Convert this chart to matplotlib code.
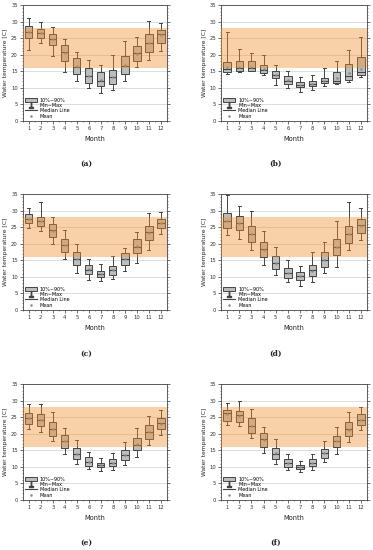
import matplotlib
matplotlib.use("Agg")
import matplotlib.pyplot as plt
from matplotlib.patches import Patch
from matplotlib.lines import Line2D
from matplotlib.ticker import MultipleLocator

months = [1, 2, 3, 4, 5, 6, 7, 8, 9, 10, 11, 12]

# panel (a)
a_min = [21.5, 23.4, 19.5, 14.9, 12.1, 9.9, 8.3, 9.4, 12.2, 16.3, 18.5, 21.1]
a_q10 = [25.1, 25.1, 22.9, 18.0, 14.1, 11.4, 10.5, 11.2, 14.3, 18.1, 20.8, 23.4]
a_med = [26.9, 26.7, 24.7, 20.9, 16.4, 13.6, 12.1, 13.2, 16.5, 20.4, 23.5, 26.4]
a_q90 = [28.8, 27.9, 26.1, 22.8, 19.1, 15.9, 14.7, 15.5, 19.5, 22.5, 26.1, 27.6]
a_max = [31.0, 29.9, 28.4, 24.8, 20.9, 18.5, 17.0, 19.8, 24.0, 25.4, 30.2, 29.6]
a_mean = [27.0, 26.6, 24.6, 20.6, 16.6, 13.7, 12.4, 13.3, 16.9, 20.3, 23.6, 25.9]

# panel (b)
b_min = [14.1, 14.8, 15.0, 13.8, 11.0, 10.1, 8.7, 9.4, 10.5, 11.1, 11.9, 13.3]
b_q10 = [14.7, 15.0, 15.1, 14.6, 12.9, 11.2, 10.2, 10.5, 11.4, 11.6, 12.5, 13.8]
b_med = [15.8, 16.0, 16.0, 15.5, 13.9, 12.2, 11.0, 11.2, 12.2, 12.2, 13.7, 14.8]
b_q90 = [17.8, 18.1, 18.1, 16.9, 15.0, 13.5, 11.9, 12.0, 13.0, 14.8, 17.1, 19.2]
b_max = [26.9, 21.7, 20.6, 20.0, 17.0, 15.0, 13.2, 13.9, 16.1, 18.0, 21.3, 25.4]
b_mean = [16.4, 16.3, 16.4, 15.6, 14.0, 12.3, 11.0, 11.2, 12.2, 13.0, 14.5, 15.8]

# panel (c)
c_min = [24.6, 23.8, 19.8, 15.3, 11.2, 9.0, 8.8, 9.5, 11.7, 14.1, 18.1, 22.9]
c_q10 = [26.2, 25.3, 21.9, 17.4, 13.5, 11.0, 10.0, 10.6, 13.7, 17.2, 21.1, 24.6]
c_med = [27.6, 26.8, 24.0, 19.6, 15.3, 12.2, 11.0, 12.2, 15.5, 19.1, 23.4, 26.4]
c_q90 = [29.0, 28.2, 25.9, 21.5, 17.4, 13.7, 11.9, 13.4, 17.1, 21.3, 25.2, 27.4]
c_max = [30.7, 32.7, 28.1, 24.1, 20.0, 15.3, 13.8, 16.3, 18.8, 23.6, 29.2, 29.6]
c_mean = [27.6, 26.8, 23.9, 19.5, 15.4, 12.3, 11.0, 12.1, 15.4, 19.2, 23.2, 26.1]

# panel (d)
d_min = [22.6, 21.4, 18.1, 13.7, 10.7, 8.4, 7.2, 8.3, 11.1, 12.9, 18.0, 21.0]
d_q10 = [24.6, 24.0, 20.4, 15.9, 12.3, 9.8, 9.2, 10.2, 13.0, 16.6, 20.1, 23.2]
d_med = [27.0, 26.2, 23.0, 18.3, 14.3, 11.3, 10.4, 12.0, 15.2, 18.9, 22.8, 25.5]
d_q90 = [29.3, 28.5, 25.4, 20.4, 16.4, 12.8, 11.4, 13.5, 17.4, 21.3, 25.4, 27.6]
d_max = [34.8, 31.5, 29.8, 23.8, 19.1, 15.2, 13.3, 17.4, 20.6, 26.9, 32.7, 30.8]
d_mean = [27.0, 26.1, 22.8, 18.2, 14.3, 11.3, 10.3, 11.8, 15.1, 19.0, 22.8, 25.4]

# panel (e)
e_min = [21.4, 20.6, 17.9, 13.8, 10.8, 9.3, 8.9, 9.2, 10.7, 13.0, 16.5, 19.7]
e_q10 = [22.8, 22.4, 19.4, 15.6, 12.3, 10.4, 9.9, 10.2, 12.1, 15.1, 18.3, 21.3]
e_med = [24.8, 24.1, 21.5, 17.8, 13.8, 11.5, 10.7, 11.2, 13.5, 16.7, 20.5, 23.2]
e_q90 = [26.3, 26.0, 23.6, 19.7, 15.8, 12.9, 11.3, 12.3, 15.0, 18.7, 22.7, 24.7]
e_max = [28.9, 28.9, 26.5, 21.7, 18.2, 14.4, 12.8, 14.3, 17.6, 21.7, 25.4, 27.2]
e_mean = [24.6, 24.1, 21.5, 17.7, 14.0, 11.6, 10.6, 11.2, 13.6, 16.9, 20.4, 23.0]

# panel (f)
f_min = [22.5, 22.4, 18.6, 14.2, 10.8, 9.1, 8.5, 9.2, 11.4, 14.0, 17.4, 21.1]
f_q10 = [23.9, 23.5, 20.3, 15.9, 12.5, 10.1, 9.5, 10.3, 12.6, 15.9, 19.2, 22.7]
f_med = [26.2, 25.5, 22.4, 18.4, 14.0, 11.2, 10.1, 11.3, 14.2, 17.8, 21.3, 24.2]
f_q90 = [27.2, 27.0, 24.6, 20.1, 15.8, 12.3, 10.7, 12.4, 15.5, 19.4, 23.4, 25.8]
f_max = [29.2, 30.0, 27.6, 22.0, 18.4, 14.0, 11.8, 13.9, 17.7, 22.0, 26.7, 28.0]
f_mean = [25.8, 25.3, 22.4, 18.1, 14.1, 11.2, 10.1, 11.3, 14.1, 17.7, 21.2, 24.1]

band_low = 16
band_high = 28
panel_labels = ["(a)", "(b)", "(c)", "(d)", "(e)", "(f)"]
legend_labels = ["10%~90%", "Min~Max", "Median Line", "Mean"]
y_label = "Water temperature [C]"
x_label = "Month"

panels = [
    (a_min, a_q10, a_med, a_q90, a_max, a_mean),
    (b_min, b_q10, b_med, b_q90, b_max, b_mean),
    (c_min, c_q10, c_med, c_q90, c_max, c_mean),
    (d_min, d_q10, d_med, d_q90, d_max, d_mean),
    (e_min, e_q10, e_med, e_q90, e_max, e_mean),
    (f_min, f_q10, f_med, f_q90, f_max, f_mean),
]

W, H = 373, 550
fig = plt.figure(figsize=(W / 100, H / 100), dpi=100)

col_x = [(22.7, 167.0), (221.0, 367.0)]
row_y = [(5.0, 121.0), (194.0, 310.0), (384.0, 500.0)]
label_y = [164, 354, 543]
label_x = [86, 276]

box_face = "#bdbdbd"
edge = "#444444"
band_color = "#f28c28"

for i, (vmin, q10, med, q90, vmax, mean) in enumerate(panels):
    r, c = divmod(i, 2)
    x0, x1 = col_x[c]
    y0, y1 = row_y[r]
    ax = fig.add_axes([x0 / W, 1 - y1 / H, (x1 - x0) / W, (y1 - y0) / H])
    stats = []
    for m in range(12):
        stats.append(dict(med=med[m], q1=q10[m], q3=q90[m], whislo=vmin[m],
                          whishi=vmax[m], mean=mean[m], fliers=[]))
    ax.bxp(stats, positions=months, widths=0.6, showmeans=True, patch_artist=True,
           boxprops=dict(facecolor=box_face, edgecolor=edge, linewidth=0.7),
           medianprops=dict(color=edge, linewidth=0.8),
           whiskerprops=dict(color=edge, linewidth=0.7),
           capprops=dict(color=edge, linewidth=0.7),
           meanprops=dict(marker='o', markersize=0.8, markerfacecolor='#888888',
                          markeredgecolor='#888888'),
           capwidths=0.25, zorder=2)
    ax.axhspan(band_low, band_high, color=band_color, alpha=0.4, lw=0, zorder=3)
    ax.set_xlim(0.5, 12.5)
    ax.set_ylim(0, 35)
    ax.set_xticks(months)
    ax.set_xticklabels([str(m) for m in months])
    ax.yaxis.set_major_locator(MultipleLocator(5))
    ax.yaxis.set_minor_locator(MultipleLocator(1))
    ax.xaxis.set_minor_locator(MultipleLocator(0.5))
    ax.grid(axis='y', which='major', color='#d8d8d8', linewidth=0.6, zorder=0)
    ax.set_axisbelow(True)
    ax.tick_params(axis='both', which='major', labelsize=3.8, length=2, width=0.5,
                   pad=1.5, colors='#333333', right=True, top=False)
    ax.tick_params(axis='both', which='minor', length=1, width=0.4, right=True,
                   top=False, colors='#333333')
    ax.tick_params(axis='y', which='both', direction='out')
    for s in ax.spines.values():
        s.set_linewidth(0.6)
        s.set_color('#444444')
    ax.set_ylabel(y_label, fontsize=4.3, labelpad=2, color='#222222')
    ax.set_xlabel(x_label, fontsize=4.8, labelpad=4, color='#222222')

    handles = [
        Patch(facecolor=box_face, edgecolor=edge, linewidth=0.7),
        Line2D([], [], color=edge, marker='$\\perp$', markersize=4, linestyle='none'),
        Line2D([], [], color=edge, linewidth=0.8),
        Line2D([], [], color='#888888', marker='o', markersize=0.8, linestyle='none'),
    ]
    ax.legend(handles, legend_labels, loc='lower left', frameon=False, fontsize=3.5,
              handlelength=2.4, handleheight=1.0, labelspacing=0.05, handletextpad=0.6,
              borderaxespad=0.3, borderpad=0.2)

    fig.text(label_x[c] / W, 1 - label_y[r] / H, panel_labels[i], ha='center',
             va='center', fontsize=5.5, family='DejaVu Serif', fontweight='bold',
             color='#222222')

fig.savefig("out.png", dpi=100)
